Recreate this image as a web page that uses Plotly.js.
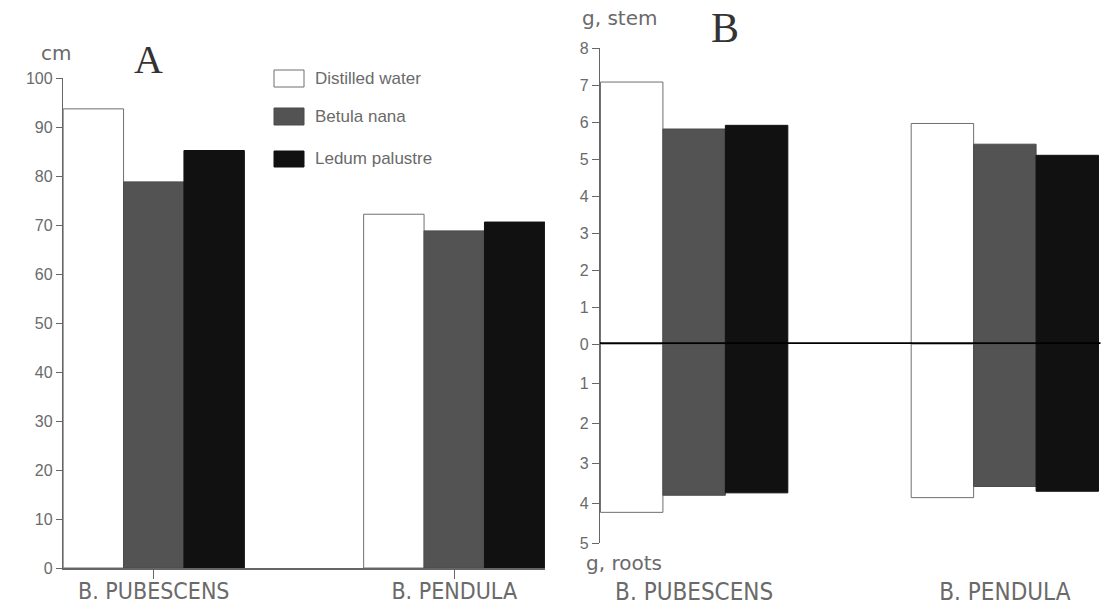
<!DOCTYPE html>
<html>
<head>
<meta charset="utf-8">
<script src="https://cdn.plot.ly/plotly-3.0.1.min.js"></script>
<style>
  html, body { margin: 0; padding: 0; background: #fff; }
  #chart { width: 1112px; height: 607px; }
</style>
</head>
<body>
<div id="chart"></div>
<script>
// ---- data ----
const categories = ['B. PUBESCENS', 'B. PENDULA'];
const seriesNames = ['Distilled water', 'Betula nana', 'Ledum palustre'];

// Panel A: height, cm
const heightDistilled = [93.7, 72.2];
const heightBetula    = [78.8, 68.8];
const heightLedum     = [85.2, 70.6];

// Panel B: stem dry mass, g
const stemDistilled = [7.08, 5.96];
const stemBetula    = [5.81, 5.40];
const stemLedum     = [5.91, 5.10];

// Panel B: root dry mass, g (drawn downward)
const rootDistilled = [4.23, 3.86];
const rootBetula    = [3.80, 3.58];
const rootLedum     = [3.74, 3.70];

const yTicksA = [0, 10, 20, 30, 40, 50, 60, 70, 80, 90, 100];
const yTicksStem = [0, 1, 2, 3, 4, 5, 6, 7, 8];
const yTicksRoot = [1, 2, 3, 4, 5];

// ---- styling ----
const W = 1112, H = 607;
const px = v => v / W;
const py = v => 1 - v / H;
const fills = ['#ffffff', '#535353', '#111111'];
const outlines = ['#6f6f6f', '#4a4a4a', '#111111'];
const textGray = '#6a6a6a';
const axisGray = '#666666';
const condensed = 'Liberation Sans Narrow, DejaVu Sans Condensed, Roboto Condensed, Arial Narrow, Liberation Sans, sans-serif';
const labelFontA = {family: condensed, size: 23, color: textGray};
const labelFontB = {family: condensed, size: 24, color: textGray};
const tickFont = {family: 'Liberation Sans, Arial, sans-serif', size: 16, color: textGray};
const unitFont = {family: 'DejaVu Sans, Liberation Sans, sans-serif', size: 20, color: textGray};

const groupsA = [heightDistilled, heightBetula, heightLedum];
const groupsStem = [stemDistilled, stemBetula, stemLedum];
const groupsRoot = [rootDistilled, rootBetula, rootLedum];

const traces = [];
function addSet(values, xa, ya) {
  values.forEach((vals, i) => {
    traces.push({
      type: 'bar', name: seriesNames[i], x: categories, y: vals,
      xaxis: xa, yaxis: ya, showlegend: false, hoverinfo: 'skip',
      marker: {color: fills[i], line: {color: outlines[i], width: 1}}
    });
  });
}
addSet(groupsA, 'x', 'y');
addSet(groupsStem, 'x2', 'y2');
addSet(groupsRoot, 'x3', 'y3');

// custom legend (large boxes as in the original)
const legendRows = [[70, 87], [108, 125], [151, 167]];
const shapes = [];
const annotations = [];
seriesNames.forEach((name, i) => {
  const [t, b] = legendRows[i];
  shapes.push({type: 'rect', xref: 'paper', yref: 'paper',
    x0: px(274), x1: px(304), y0: py(b), y1: py(t),
    fillcolor: fills[i], line: {color: outlines[i], width: 1}});
  annotations.push({xref: 'paper', yref: 'paper', x: px(313), y: py((t + b) / 2),
    xanchor: 'left', yanchor: 'middle', showarrow: false, text: name,
    font: {family: 'Liberation Sans, Arial, sans-serif', size: 17, color: textGray}});
});
// thick zero line between stem and root halves of panel B, drawn over the bars
shapes.push({type: 'line', layer: 'above', xref: 'x2 domain', yref: 'y2',
  x0: 0, x1: 1.003, y0: 0, y1: 0, line: {color: '#000', width: 3.5}});

annotations.push(
  {xref: 'paper', yref: 'paper', x: px(56), y: py(53), showarrow: false, text: 'cm',
   xanchor: 'center', yanchor: 'middle', font: unitFont},
  {xref: 'paper', yref: 'paper', x: px(148), y: py(59), showarrow: false, text: 'A',
   xanchor: 'center', yanchor: 'middle', font: {family: 'Liberation Serif, Times New Roman, serif', size: 40, color: '#333'}},
  {xref: 'paper', yref: 'paper', x: px(619), y: py(18), showarrow: false, text: 'g, stem',
   xanchor: 'center', yanchor: 'middle', font: unitFont},
  {xref: 'paper', yref: 'paper', x: px(725), y: py(28), showarrow: false, text: 'B',
   xanchor: 'center', yanchor: 'middle', font: {family: 'Liberation Serif, Times New Roman, serif', size: 42, color: '#333'}},
  {xref: 'paper', yref: 'paper', x: px(624), y: py(563), showarrow: false, text: 'g, roots',
   xanchor: 'center', yanchor: 'middle', font: unitFont}
);

const yBase = {showgrid: false, zeroline: false, showline: true, linecolor: axisGray, linewidth: 1.2,
  ticks: 'outside', ticklen: 6, tickcolor: axisGray, tickwidth: 1, tickfont: tickFont, fixedrange: true};

const layout = {
  width: W, height: H,
  margin: {l: 0, r: 0, t: 0, b: 0},
  paper_bgcolor: '#fff', plot_bgcolor: 'rgba(0,0,0,0)',
  barmode: 'group', bargap: 0.397, bargroupgap: 0,
  showlegend: false,
  xaxis: {type: 'category', domain: [px(63), px(545)], anchor: 'y', range: [-0.302, 1.302],
    showgrid: false, zeroline: false, showline: true, linecolor: axisGray, linewidth: 1.5,
    ticks: 'outside', ticklen: 9, tickcolor: axisGray, tickfont: labelFontA, ticklabelstandoff: -7, fixedrange: true},
  yaxis: Object.assign({}, yBase, {domain: [py(568), py(78)], anchor: 'x', range: [0, 100], tickvals: yTicksA}),
  xaxis2: {type: 'category', domain: [px(600), px(1099)], anchor: 'y2', range: [-0.303, 1.303],
    showgrid: false, zeroline: false, showline: false,
    ticks: '', showticklabels: false, fixedrange: true},
  yaxis2: Object.assign({}, yBase, {domain: [py(344), py(48)], anchor: 'x2', range: [0, 8], tickvals: yTicksStem, ticklen: 7}),
  xaxis3: {type: 'category', domain: [px(600), px(1099)], anchor: 'y3', range: [-0.303, 1.303], matches: 'x2',
    showgrid: false, zeroline: false, showline: false, ticks: '', tickfont: labelFontB, ticklabelstandoff: 32, fixedrange: true},
  yaxis3: Object.assign({}, yBase, {domain: [py(543), py(344)], anchor: 'x3', range: [5, 0], tickvals: yTicksRoot, ticklen: 7}),
  shapes: shapes,
  annotations: annotations
};

Plotly.newPlot('chart', traces, layout, {staticPlot: true, displayModeBar: false});
</script>
</body>
</html>
